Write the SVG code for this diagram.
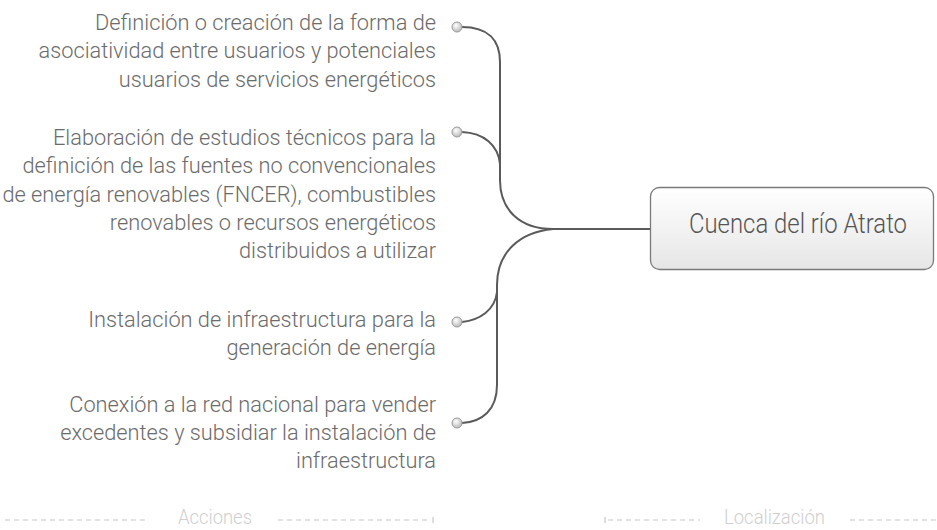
<svg xmlns="http://www.w3.org/2000/svg" width="937" height="530" viewBox="0 0 937 530">
<style>
.t{font-family:Roboto,"Liberation Sans",sans-serif;font-weight:300;font-size:22px;fill:#6b6b6b;text-anchor:end}
.c{fill:none;stroke:#5a5a5a;stroke-width:2}
.d{fill:url(#dot);stroke:#9a9a9a;stroke-width:1}
.foot{font-family:Roboto,"Liberation Sans",sans-serif;font-weight:300;font-size:20px;fill:#cfcfcf}
.dash{stroke:#c8c8c8;stroke-width:1.2;stroke-dasharray:5 4;fill:none}
.tick{stroke:#c8c8c8;stroke-width:1.2}
</style>
<defs>
<radialGradient id="dot" cx="0.4" cy="0.35" r="0.7">
<stop offset="0" stop-color="#ffffff"/>
<stop offset="1" stop-color="#b5b5b5"/>
</radialGradient>
<linearGradient id="box" x1="0" y1="0" x2="0" y2="1">
<stop offset="0" stop-color="#ffffff"/>
<stop offset="1" stop-color="#e6e6e6"/>
</linearGradient>
</defs>
<rect width="937" height="530" fill="#ffffff"/>
<g id="connectors">
<path class="c" d="M 462 27 C 488 27, 500 40, 500 62 L 500 180 C 500 210, 520 229, 553 229 L 650 229"/>
<path class="c" d="M 462 132 C 484 133, 498 145, 500 164"/>
<path class="c" d="M 553 229 C 520 232, 497 252, 497 285 L 497 385 C 497 410, 482 422, 462 423"/>
<path class="c" d="M 462 322 C 480 320, 495 310, 497 292"/>
</g>
<g id="n1">
<circle class="d" cx="457" cy="27" r="5"/>
<g transform="translate(436 0) scale(0.99 1)">
<text class="t" x="0" y="30">Definición o creación de la forma de</text>
<text class="t" x="0" y="58">asociatividad entre usuarios y potenciales</text>
<text class="t" x="0" y="87">usuarios de servicios energéticos</text>
</g>
</g>
<g id="n2">
<circle class="d" cx="457" cy="132" r="5"/>
<g transform="translate(436 0) scale(0.99 1)">
<text class="t" x="0" y="145">Elaboración de estudios técnicos para la</text>
<text class="t" x="0" y="173">definición de las fuentes no convencionales</text>
<text class="t" x="0" y="202">de energía renovables (FNCER), combustibles</text>
<text class="t" x="0" y="230">renovables o recursos energéticos</text>
<text class="t" x="0" y="258">distribuidos a utilizar</text>
</g>
</g>
<g id="n3">
<circle class="d" cx="457" cy="322" r="5"/>
<g transform="translate(436 0) scale(0.99 1)">
<text class="t" x="0" y="327">Instalación de infraestructura para la</text>
<text class="t" x="0" y="355">generación de energía</text>
</g>
</g>
<g id="n4">
<circle class="d" cx="457" cy="423" r="5"/>
<g transform="translate(436 0) scale(0.99 1)">
<text class="t" x="0" y="412">Conexión a la red nacional para vender</text>
<text class="t" x="0" y="440">excedentes y subsidiar la instalación de</text>
<text class="t" x="0" y="468">infraestructura</text>
</g>
</g>
<g id="center">
<rect x="650.5" y="187.5" width="283" height="82" rx="9" fill="url(#box)" stroke="#7a7a7a" stroke-width="1.3"/>
<text x="689" y="233" font-family="Roboto,'Liberation Sans',sans-serif" font-weight="300" font-size="27" fill="#555555" textLength="218" lengthAdjust="spacingAndGlyphs">Cuenca del río Atrato</text>
</g>
<g id="footer">
<line class="dash" x1="5" y1="520" x2="148" y2="520"/>
<text class="foot" x="178" y="524" textLength="74" lengthAdjust="spacingAndGlyphs">Acciones</text>
<line class="dash" x1="278" y1="520" x2="431" y2="520"/>
<line class="tick" x1="433" y1="517" x2="433" y2="523"/>
<line class="tick" x1="605" y1="517" x2="605" y2="523"/>
<line class="dash" x1="608" y1="520" x2="700" y2="520"/>
<text class="foot" x="724" y="524" textLength="101" lengthAdjust="spacingAndGlyphs">Localización</text>
<line class="dash" x1="850" y1="520" x2="937" y2="520"/>
</g>
</svg>
